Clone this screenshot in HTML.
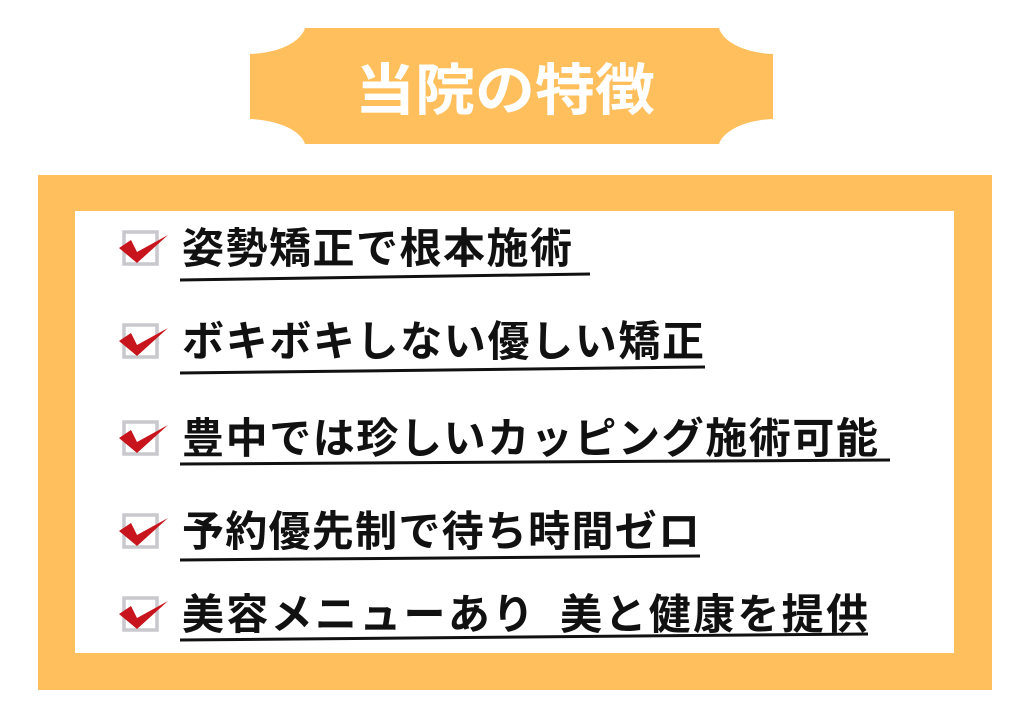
<!DOCTYPE html>
<html><head><meta charset="utf-8"><style>
html,body{margin:0;padding:0;background:#fff;width:1024px;height:726px;overflow:hidden}
</style></head><body>
<svg width="1024" height="726" viewBox="0 0 1024 726" xmlns="http://www.w3.org/2000/svg">
<defs>
<g id="ck">
<rect x="124" y="-16" width="33" height="32" fill="none" stroke="#c9c9cd" stroke-width="3.5"/>
<path d="M119,0 L131,-8 L137,4 L168,-13 L137,15 Z" fill="#c8141c"/>
</g>
</defs>
<path d="M305,28 L719,28 C723,42 745,53 773,54 L773,119 C745,120 723,131 719,144 L305,144 C301,131 279,120 250,119 L250,54 C279,53 301,42 305,28 Z" fill="#ffbf5c"/>
<text x="505" y="110" text-anchor="middle" font-family="'Noto Sans CJK JP',sans-serif" font-weight="bold" font-size="56" fill="#fff" textLength="300" lengthAdjust="spacingAndGlyphs">当院の特徴</text>
<rect x="38" y="175" width="954" height="515" fill="#ffbf5c"/>
<rect x="75" y="211" width="879" height="442" fill="#fff"/>
<g font-family="'Noto Sans CJK JP',sans-serif" font-weight="bold" font-size="42" fill="#111" lengthAdjust="spacingAndGlyphs">
<use href="#ck" y="248"/>
<text x="182" y="263" textLength="390">姿勢矯正で根本施術</text>
<path d="M180,280 L590,274" stroke="#111" stroke-width="3"/>
<use href="#ck" y="341"/>
<text x="182" y="356" textLength="522">ボキボキしない優しい矯正</text>
<path d="M180,373 L705,367" stroke="#111" stroke-width="3"/>
<use href="#ck" y="438"/>
<text x="182" y="453" textLength="696">豊中では珍しいカッピング施術可能</text>
<path d="M180,464 L890,460" stroke="#111" stroke-width="3"/>
<use href="#ck" y="531"/>
<text x="182" y="546" textLength="518">予約優先制で待ち時間ゼロ</text>
<path d="M180,560 L700,556" stroke="#111" stroke-width="3"/>
<use href="#ck" y="614"/>
<text x="182" y="629" textLength="686">美容メニューあり&#160;&#160;美と健康を提供</text>
<path d="M180,640 L868,634" stroke="#111" stroke-width="3"/>
</g>
</svg>
</body></html>
